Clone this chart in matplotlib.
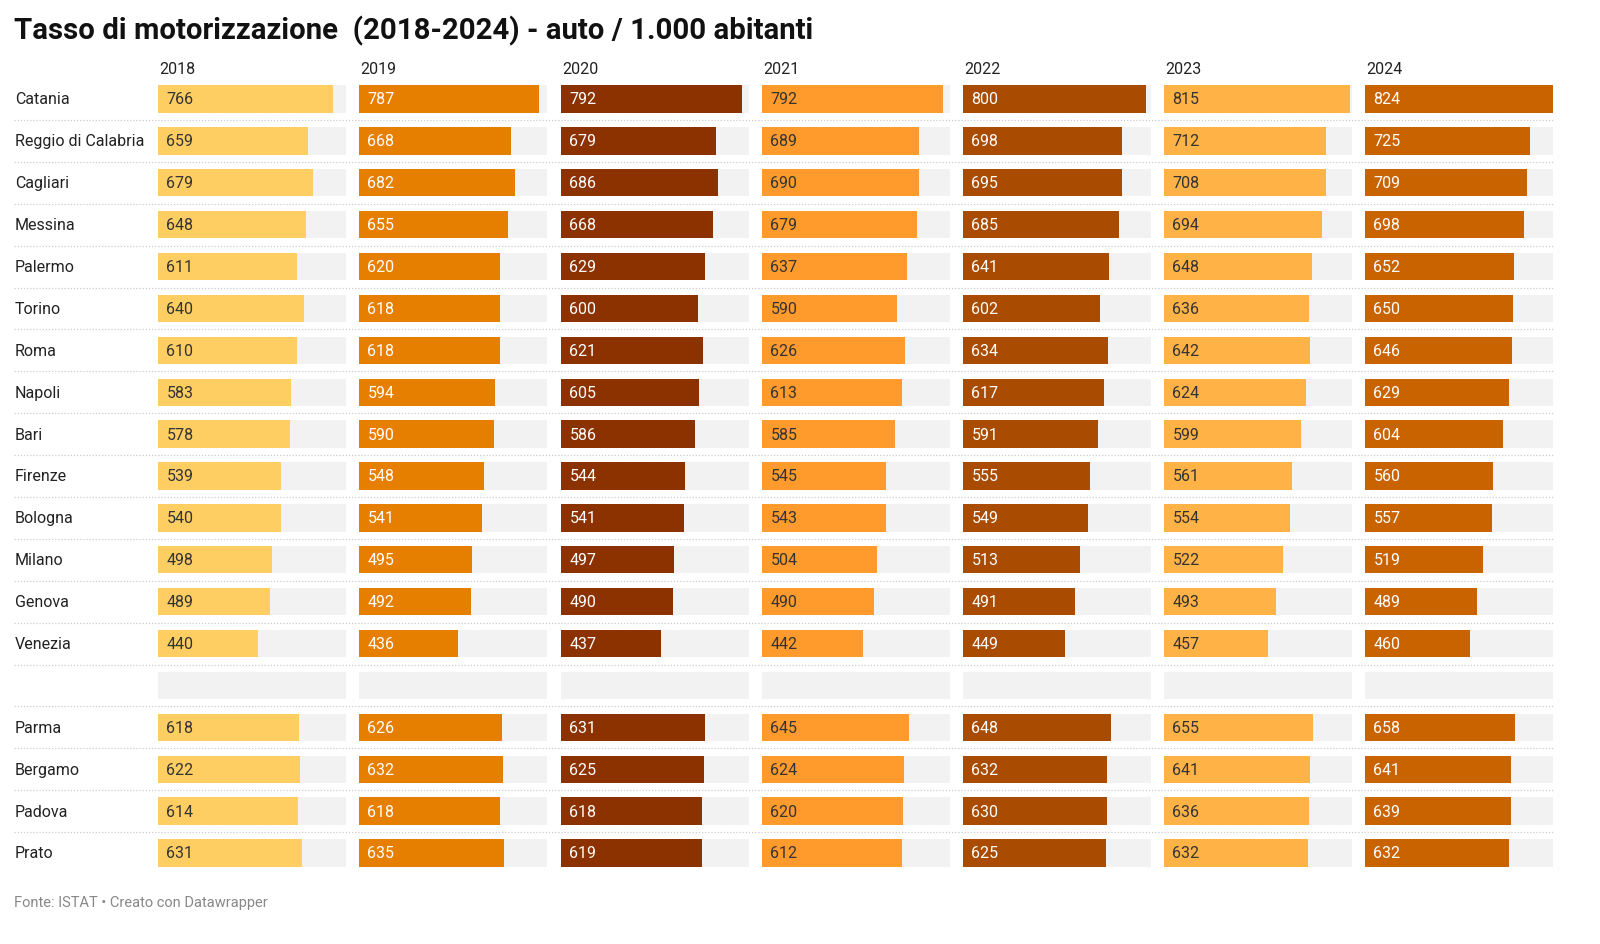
import numpy as np
import matplotlib.pyplot as plt

plt.rcParams['font.family'] = ['Roboto', 'DejaVu Sans']

citta = ['Catania', 'Reggio di Calabria', 'Cagliari', 'Messina', 'Palermo', 'Torino',
         'Roma', 'Napoli', 'Bari', 'Firenze', 'Bologna', 'Milano', 'Genova', 'Venezia',
         '', 'Parma', 'Bergamo', 'Padova', 'Prato']
anni = ['2018', '2019', '2020', '2021', '2022', '2023', '2024']

nan = np.nan
v2018 = [766, 659, 679, 648, 611, 640, 610, 583, 578, 539, 540, 498, 489, 440, nan, 618, 622, 614, 631]
v2019 = [787, 668, 682, 655, 620, 618, 618, 594, 590, 548, 541, 495, 492, 436, nan, 626, 632, 618, 635]
v2020 = [792, 679, 686, 668, 629, 600, 621, 605, 586, 544, 541, 497, 490, 437, nan, 631, 625, 618, 619]
v2021 = [792, 689, 690, 679, 637, 590, 626, 613, 585, 545, 543, 504, 490, 442, nan, 645, 624, 620, 612]
v2022 = [800, 698, 695, 685, 641, 602, 634, 617, 591, 555, 549, 513, 491, 449, nan, 648, 632, 630, 625]
v2023 = [815, 712, 708, 694, 648, 636, 642, 624, 599, 561, 554, 522, 493, 457, nan, 655, 641, 636, 632]
v2024 = [824, 725, 709, 698, 652, 650, 646, 629, 604, 560, 557, 519, 489, 460, nan, 658, 641, 639, 632]
valori = [v2018, v2019, v2020, v2021, v2022, v2023, v2024]

colori = ['#FFCE63', '#E67E00', '#8C3100', '#FF9B2D', '#A94B00', '#FFB347', '#C96300']
colori_testo = ['#333333', '#ffffff', '#ffffff', '#333333', '#ffffff', '#333333', '#ffffff']

W, H = 1600, 945
fig = plt.figure(figsize=(W / 100, H / 100), dpi=100)

n = len(citta)
passo = (854 - 100) / (n - 1)
top_px = 100 - passo / 2
bot_px = 854 + passo / 2
ax_bottom = 1 - bot_px / H
ax_height = (bot_px - top_px) / H
vmax = np.nanmax(np.array(valori))
righe = np.arange(n)

# asse di sfondo per etichette e separatori
bg = fig.add_axes([0, ax_bottom, 1, ax_height])
bg.set_xlim(0, 1)
bg.set_ylim(n - 0.5, -0.5)
bg.axis('off')
bg.hlines(righe[:-1] + 0.5, 14 / W, 1553 / W, colors='#cccccc', linewidth=0.9,
          linestyles=(0, (1, 1.5)))
for i, c in enumerate(citta):
    bg.text(15 / W, i, c, fontsize=11.5, color='#222222', va='center', ha='left')

panel_x = [158, 359, 561, 762, 963, 1164, 1365]
panel_w = 188
for k, anno in enumerate(anni):
    ax = fig.add_axes([panel_x[k] / W, ax_bottom, panel_w / W, ax_height])
    ax.set_xlim(0, vmax)
    ax.set_ylim(n - 0.5, -0.5)
    ax.axis('off')
    ax.barh(righe, [vmax] * n, height=0.65, color='#f2f2f2')
    vals = np.array(valori[k])
    ax.barh(righe, np.nan_to_num(vals), height=0.65, color=colori[k])
    for i, v in enumerate(vals):
        if np.isnan(v):
            continue
        ax.annotate(f'{int(v)}', (0, i), xytext=(6, 0), textcoords='offset points',
                    fontsize=11.5, color=colori_testo[k], va='center', ha='left')
    fig.text(panel_x[k] / W + 1 / W, 1 - 70 / H, anno, fontsize=11.5, color='#222222',
             va='center', ha='left')

fig.text(14 / W, 1 - 31 / H, 'Tasso di motorizzazione  (2018-2024) - auto / 1.000 abitanti',
         fontsize=21.2, fontweight='bold', color='#111111', va='center', ha='left')
fig.text(14 / W, 1 - 903 / H, 'Fonte: ISTAT • Creato con Datawrapper', fontsize=10.5,
         color='#888888', va='center', ha='left')

fig.savefig('out.png', dpi=100, facecolor='white')
